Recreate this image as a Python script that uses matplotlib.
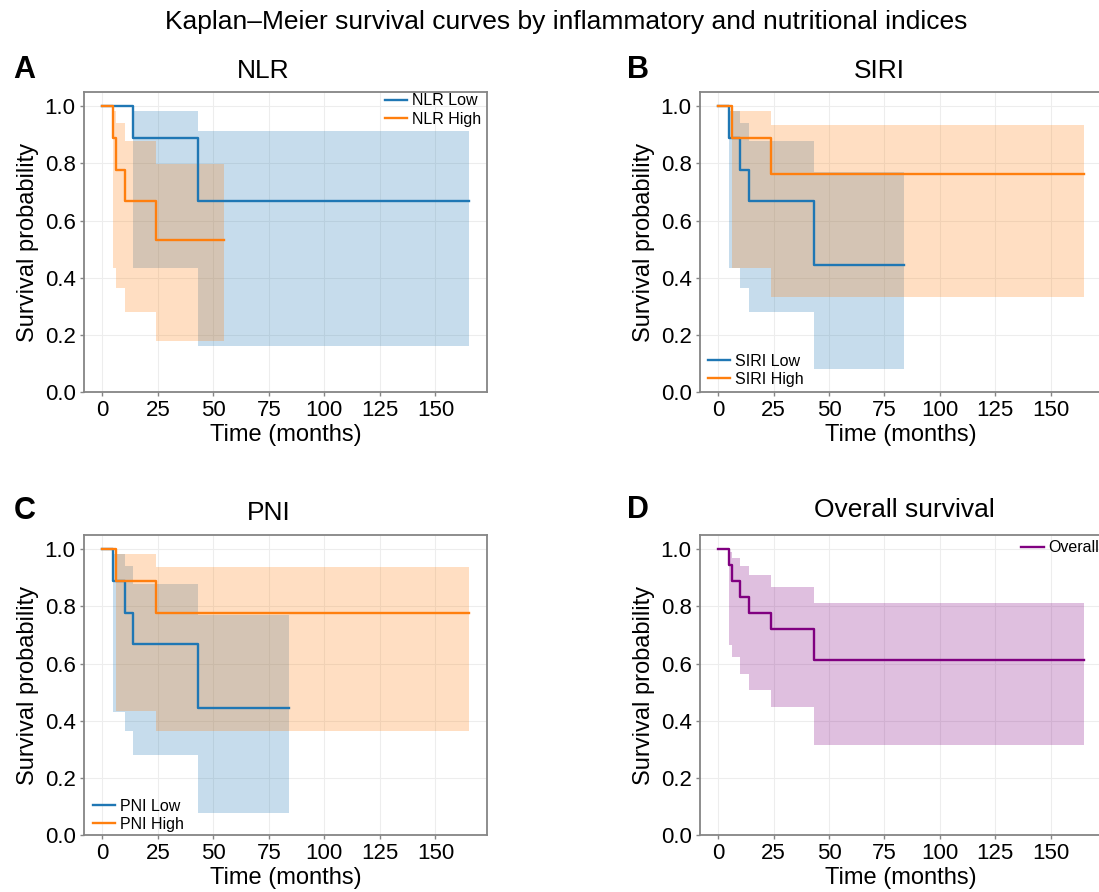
import matplotlib
matplotlib.use("Agg")
import matplotlib.pyplot as plt
import numpy as np

plt.rcParams['font.family'] = ['Liberation Sans', 'DejaVu Sans']

W, H = 1099, 892

# Kaplan-Meier estimates: step times (months), survival, CI
nlr_low_t = [0, 14, 43, 165]
nlr_low_s = [1.0, 0.889, 0.667, 0.667]
nlr_low_hi = [1.0, 0.983, 0.913, 0.913]
nlr_low_lo = [1.0, 0.433, 0.160, 0.160]

nlr_high_t = [0, 5, 6, 10, 24, 55]
nlr_high_s = [1.0, 0.889, 0.778, 0.667, 0.533, 0.533]
nlr_high_hi = [1.0, 0.985, 0.940, 0.877, 0.798, 0.798]
nlr_high_lo = [1.0, 0.433, 0.365, 0.280, 0.177, 0.177]

siri_low_t = [0, 5, 10, 14, 43, 84]
siri_low_s = [1.0, 0.889, 0.778, 0.667, 0.444, 0.444]
siri_low_hi = [1.0, 0.985, 0.940, 0.877, 0.770, 0.770]
siri_low_lo = [1.0, 0.433, 0.365, 0.280, 0.080, 0.080]

siri_high_t = [0, 6, 24, 165]
siri_high_s = [1.0, 0.889, 0.762, 0.762]
siri_high_hi = [1.0, 0.985, 0.935, 0.935]
siri_high_lo = [1.0, 0.433, 0.331, 0.331]

pni_low_t = [0, 5, 10, 14, 43, 84]
pni_low_s = [1.0, 0.889, 0.778, 0.667, 0.444, 0.444]
pni_low_hi = [1.0, 0.985, 0.940, 0.877, 0.771, 0.771]
pni_low_lo = [1.0, 0.431, 0.363, 0.280, 0.078, 0.078]

pni_high_t = [0, 6, 24, 165]
pni_high_s = [1.0, 0.889, 0.778, 0.778]
pni_high_hi = [1.0, 0.985, 0.939, 0.939]
pni_high_lo = [1.0, 0.433, 0.363, 0.363]

overall_t = [0, 5, 6, 10, 14, 24, 43, 165]
overall_s = [1.0, 0.944, 0.889, 0.833, 0.778, 0.720, 0.614, 0.614]
overall_hi = [1.0, 0.990, 0.968, 0.942, 0.909, 0.869, 0.813, 0.813]
overall_lo = [1.0, 0.665, 0.622, 0.565, 0.509, 0.447, 0.314, 0.314]

x_ticks = [0, 25, 50, 75, 100, 125, 150]
y_ticks = [0.0, 0.2, 0.4, 0.6, 0.8, 1.0]

BLUE = '#1f77b4'
ORANGE = '#ff7f0e'
PURPLE = '#800080'
SPINE = '#858585'


def px_axes(left, top, right, bottom):
    return [left / W, 1 - bottom / H, (right - left) / W, (bottom - top) / H]


def km_curve(ax, t, s, lo, hi, color, label):
    ax.fill_between(t, lo, hi, step='post', color=color, alpha=0.25, linewidth=0)
    ax.step(t, s, where='post', color=color, lw=1.7, label=label)


def style_axes(ax):
    ax.set_ylim(0, 1.05)
    ax.set_xticks(x_ticks)
    ax.set_yticks(y_ticks)
    ax.set_yticklabels(['%.1f' % v for v in y_ticks])
    ax.grid(True, color='#ededed', lw=0.8, ls='-')
    ax.set_axisbelow(True)
    for sp in ax.spines.values():
        sp.set_color(SPINE)
        sp.set_linewidth(1.3)
    ax.tick_params(colors=SPINE, labelcolor='black', length=3, width=1,
                   labelsize=16, pad=3)
    ax.set_xlabel('Time (months)', fontsize=17, labelpad=2)
    ax.set_ylabel('Survival probability', fontsize=17, labelpad=4)


fig = plt.figure(figsize=(W / 100, H / 100), dpi=100)

axA = fig.add_axes(px_axes(84, 92, 487, 392))
axB = fig.add_axes(px_axes(700, 92, 1102, 392))
axC = fig.add_axes(px_axes(84, 535, 487, 835))
axD = fig.add_axes(px_axes(700, 535, 1102, 835))

km_curve(axA, nlr_low_t, nlr_low_s, nlr_low_lo, nlr_low_hi, BLUE, 'NLR Low')
km_curve(axA, nlr_high_t, nlr_high_s, nlr_high_lo, nlr_high_hi, ORANGE, 'NLR High')

km_curve(axB, siri_low_t, siri_low_s, siri_low_lo, siri_low_hi, BLUE, 'SIRI Low')
km_curve(axB, siri_high_t, siri_high_s, siri_high_lo, siri_high_hi, ORANGE, 'SIRI High')

km_curve(axC, pni_low_t, pni_low_s, pni_low_lo, pni_low_hi, BLUE, 'PNI Low')
km_curve(axC, pni_high_t, pni_high_s, pni_high_lo, pni_high_hi, ORANGE, 'PNI High')

km_curve(axD, overall_t, overall_s, overall_lo, overall_hi, PURPLE, 'Overall')

for ax in (axA, axB, axC, axD):
    style_axes(ax)

leg_kw = dict(frameon=False, fontsize=11.5, borderpad=0, borderaxespad=0,
              handlelength=1.4, handletextpad=0.3, labelspacing=0.2)
axA.legend(loc='upper right', bbox_to_anchor=(0.985, 0.995), **leg_kw)
axB.legend(loc='lower left', bbox_to_anchor=(0.02, 0.017), **leg_kw)
axC.legend(loc='lower left', bbox_to_anchor=(0.022, 0.01), **leg_kw)
axD.legend(loc='upper right', bbox_to_anchor=(0.993, 0.983), **leg_kw)

# panel letters and titles (placed in pixels like the source figure)
letters = [('A', 24.5, 70), ('B', 638, 70), ('C', 24.5, 511), ('D', 638, 510)]
for txt, x, y in letters:
    fig.text(x / W, 1 - y / H, txt, fontsize=22, fontweight='bold',
             ha='center', va='center')

titles = [('NLR', 263, 71), ('SIRI', 879, 71), ('PNI', 269, 513),
          ('Overall survival', 904, 510)]
for txt, x, y in titles:
    fig.text(x / W, 1 - y / H, txt, fontsize=19, ha='center', va='center')

fig.text(566 / W, 1 - 22 / H,
         'Kaplan\u2013Meier survival curves by inflammatory and nutritional indices',
         fontsize=19, ha='center', va='center')

fig.savefig('out.png', dpi=100)
